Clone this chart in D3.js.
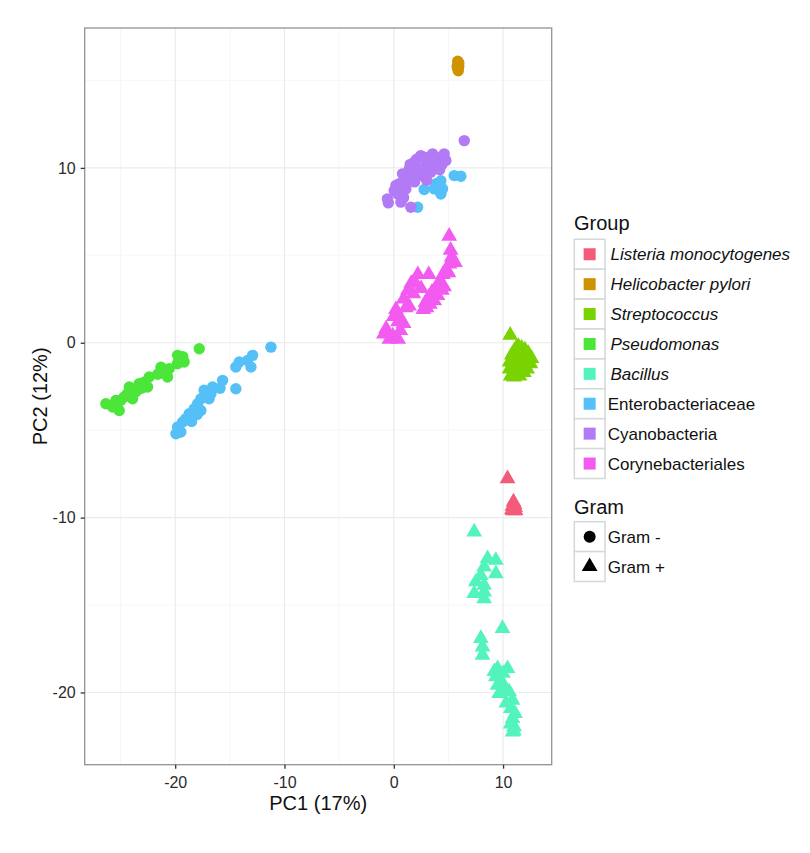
<!DOCTYPE html>
<html>
<head>
<meta charset="utf-8">
<script src="https://cdn.jsdelivr.net/npm/d3@7"></script>
<style>
  html, body { margin: 0; padding: 0; background: #fff; }
  svg { display: block; font-family: "Liberation Sans", Arial, Helvetica, sans-serif; }
</style>
</head>
<body>
<svg id="chart" width="810" height="853"></svg>
<script>
// ---------- DATA ----------
const groupNames = ["Listeria monocytogenes", "Helicobacter pylori", "Streptococcus", "Pseudomonas",
                    "Bacillus", "Enterobacteriaceae", "Cyanobacteria", "Corynebacteriales"];
const groupItalic = [true, true, true, true, true, false, false, false];
const groupColors = ["#F35B7B", "#CF9300", "#79D300", "#4CE53A", "#52F4BC", "#55C0F7", "#B27BF5", "#F25AF0"];
const groupGram = ["+", "-", "+", "-", "+", "-", "-", "+"];
const gramLabels = ["Gram -", "Gram +"];
const xTicks = [-20, -10, 0, 10];
const yTicks = [-20, -10, 0, 10];

const listeria = [[10.41,-7.77],[10.95,-9.1],[10.85,-9.35],[11.1,-9.4],[10.9,-9.6],[11.15,-9.6],[10.8,-9.55],[11.05,-9.25]];
const helicobacter = [[5.85,16.1],[5.9,15.9],[5.95,15.8],[5.85,15.7],[5.9,15.55],[5.95,16.0],[5.8,15.8]];
const streptococcus = [[10.65,0.43],[11.4,-0.2],[11.7,-0.3],[12.0,-0.4],[12.3,-0.6],[12.6,-0.9],[12.5,-1.2],
  [12.2,-1.5],[11.9,-1.7],[11.5,-1.9],[11.0,-1.95],[10.7,-1.9],[10.6,-1.5],[10.6,-1.1],[10.8,-0.7],[11.0,-0.5],
  [11.3,-1.0],[11.6,-1.3],[11.9,-0.9],[11.2,-0.3],[11.2,-1.6],[12.0,-1.1],[11.5,-0.6]];
const pseudomonas = [[-17.8,-0.34],[-19.78,-0.72],[-19.18,-1.1],[-19.8,-1.2],[-20.55,-1.49],[-21.15,-1.68],
  [-20.7,-1.96],[-22.38,-1.96],[-22.84,-2.25],[-23.3,-2.34],[-22.53,-2.53],[-24.2,-2.53],[-24.36,-2.91],
  [-24.67,-3.1],[-23.9,-3.2],[-25.43,-3.3],[-26.34,-3.49],[-25.73,-3.67],[-25.12,-3.87],[-25.0,-3.3],
  [-23.6,-2.8],[-23.1,-2.6],[-21.6,-1.8],[-21.3,-1.4],[-19.6,-0.95],[-19.3,-0.8]];
const bacillus = [[7.36,-10.82],[8.58,-12.34],[9.34,-12.44],[8.27,-12.82],[9.34,-13.2],[7.97,-13.3],[7.51,-13.67],
  [8.27,-13.87],[7.36,-14.34],[8.27,-14.25],[8.27,-14.63],[9.95,-16.34],[7.97,-16.91],[8.12,-17.39],[8.12,-17.87],
  [9.5,-18.63],[10.41,-18.63],[9.34,-19.1],[9.5,-19.58],[9.64,-20.06],[10.56,-19.96],[10.87,-20.44],[10.71,-20.91],
  [10.87,-21.49],[11.02,-21.96],[10.87,-22.25],[9.8,-19.3],[10.2,-19.8],[10.0,-18.9],[11.1,-21.2],[10.7,-21.8],
  [11.0,-22.2],[9.2,-18.8],[10.3,-20.6]];
const enterobacteriaceae = [[-11.24,-0.25],[-12.92,-0.72],[-13.38,-1.01],[-14.14,-1.1],[-13.07,-1.39],[-14.45,-1.39],
  [-14.45,-2.63],[-15.66,-2.15],[-16.58,-2.53],[-17.35,-2.72],[-16.73,-2.91],[-17.65,-3.2],[-17.95,-3.49],
  [-18.26,-3.77],[-17.65,-3.87],[-18.72,-4.06],[-19.02,-4.34],[-19.32,-4.53],[-19.78,-4.82],[-19.93,-5.2],
  [-19.48,-5.1],[-18.5,-4.5],[-18.0,-4.1],[-16.9,-3.2],[-15.9,-2.6],
  [2.78,8.76],[2.18,7.75],[3.85,9.09],[4.31,9.27],[4.46,8.8],[4.31,8.51],[5.53,9.56],[6.14,9.52],[3.7,8.8],[4.1,9.0]];
const cyanobacteria = [[-0.58,8.23],[0.65,8.04],[1.56,7.75],[0.04,8.7],[0.49,9.09],[0.8,9.66],[1.41,9.94],[1.87,10.33],
  [2.48,10.7],[2.94,10.13],[3.55,10.8],[4.61,10.8],[4.77,10.42],[4.0,10.13],[3.39,9.75],[2.32,9.56],[1.26,9.18],
  [1.11,8.8],[0.35,8.51],[2.02,10.04],[3.09,10.51],[2.6,9.9],[1.7,9.5],[3.9,10.6],[4.3,10.5],[1.0,9.3],[0.2,9.0],
  [-0.5,8.0],[0.9,8.3],[2.9,10.6],[1.5,10.2],[4.2,9.9],[3.0,9.3],[2.1,10.5],[3.6,10.3],[1.9,9.2],[0.7,8.9],
  [2.7,9.6],[4.4,10.2],[6.45,11.56]];
const corynebacteriales = [[2.7,1.9],[2.9,2.3],[3.2,2.6],[3.5,2.9],[3.9,3.2],[4.2,3.5],[4.5,3.9],[4.8,4.2],[5.1,4.5],
  [5.3,4.9],[5.2,5.3],[5.07,6.1],[5.6,4.6],[4.6,3.2],[4.0,2.7],[3.3,2.2],[3.0,2.0],[5.0,4.0],[4.4,3.0],[3.7,2.4],
  [-0.9,0.5],[-0.7,0.8],[-0.1,0.4],[0.6,0.7],[0.0,1.5],[0.6,1.4],[0.2,1.9],[0.9,2.5],[1.4,2.1],[1.3,3.0],[1.6,3.4],
  [2.2,3.9],[2.5,3.1],[3.2,3.9],[1.9,3.5],[-0.4,0.2],[0.4,0.2],[1.1,2.0],[0.9,1.1],[1.8,2.8],[0.4,1.2]];
const groupData = [listeria, helicobacter, streptococcus, pseudomonas, bacillus, enterobacteriaceae, cyanobacteria, corynebacteriales];

// ---------- LAYOUT ----------
const panel = { left: 84.7, right: 551.7, top: 28, bottom: 764.7 };
const svg = d3.select("#chart");
svg.append("rect").attr("width", 810).attr("height", 853).attr("fill", "#fff");

const x = d3.scaleLinear().domain([-28.28, 14.45]).range([panel.left, panel.right]);
const y = d3.scaleLinear().domain([-24.13, 18.0]).range([panel.bottom, panel.top]);

const g = svg.append("g");
// grid
const xMinor = [-25, -15, -5, 5];
const yMinor = [-15, -5, 5, 15];
g.selectAll(".xminor").data(xMinor).enter().append("line")
  .attr("x1", d => x(d)).attr("x2", d => x(d)).attr("y1", panel.top).attr("y2", panel.bottom)
  .attr("stroke", "#F3F5F6").attr("stroke-width", 0.8);
g.selectAll(".yminor").data(yMinor).enter().append("line")
  .attr("y1", d => y(d)).attr("y2", d => y(d)).attr("x1", panel.left).attr("x2", panel.right)
  .attr("stroke", "#F3F5F6").attr("stroke-width", 0.8);
g.selectAll(".xmajor").data(xTicks).enter().append("line")
  .attr("x1", d => x(d)).attr("x2", d => x(d)).attr("y1", panel.top).attr("y2", panel.bottom)
  .attr("stroke", "#E9ECEE").attr("stroke-width", 1.2);
g.selectAll(".ymajor").data(yTicks).enter().append("line")
  .attr("y1", d => y(d)).attr("y2", d => y(d)).attr("x1", panel.left).attr("x2", panel.right)
  .attr("stroke", "#E9ECEE").attr("stroke-width", 1.2);

// points
const triSize = 108;
groupData.forEach((pts, gi) => {
  const col = groupColors[gi];
  if (groupGram[gi] === "-") {
    g.append("g").selectAll("circle").data(pts).enter().append("circle")
      .attr("cx", d => x(d[0])).attr("cy", d => y(d[1])).attr("r", 5.7).attr("fill", col);
  } else {
    g.append("g").selectAll("path").data(pts).enter().append("path")
      .attr("d", d3.symbol(d3.symbolTriangle, triSize))
      .attr("transform", d => `translate(${x(d[0])},${y(d[1])})`).attr("fill", col);
  }
});

// panel border
svg.append("rect").attr("x", panel.left).attr("y", panel.top)
  .attr("width", panel.right - panel.left).attr("height", panel.bottom - panel.top)
  .attr("fill", "none").attr("stroke", "#8E9596").attr("stroke-width", 1.3);

// axes
const xAxis = d3.axisBottom(x).tickValues(xTicks).tickSize(4).tickPadding(8).tickFormat(d3.format("d"));
const yAxis = d3.axisLeft(y).tickValues(yTicks).tickSize(4).tickPadding(5).tickFormat(d3.format("d"));
const xa = svg.append("g").attr("transform", `translate(0,${panel.bottom})`).call(xAxis);
const ya = svg.append("g").attr("transform", `translate(${panel.left},0)`).call(yAxis);
[xa, ya].forEach(a => {
  a.select(".domain").remove();
  a.selectAll(".tick line").attr("stroke", "#333").attr("stroke-width", 1.3);
  a.selectAll(".tick text").attr("fill", "#2b2b2b").style("font-size", "16px")
    .style("font-family", "'Liberation Sans', Arial, sans-serif");
});
xa.selectAll(".tick text").text(d => d3.format("d")(d).replace("−", "-"));
ya.selectAll(".tick text").text(d => d3.format("d")(d).replace("−", "-"));

// axis titles
svg.append("text").attr("x", (panel.left + panel.right) / 2).attr("y", 810)
  .attr("text-anchor", "middle").style("font-size", "20px").attr("fill", "#111").text("PC1 (17%)");
svg.append("text").attr("transform", `translate(47,${(panel.top + panel.bottom) / 2}) rotate(-90)`)
  .attr("text-anchor", "middle").style("font-size", "20px").attr("fill", "#111").text("PC2 (12%)");

// ---------- LEGEND ----------
const lg = svg.append("g");
const keyX = 574.3, keyW = 30.7, rowH = 29.9;
lg.append("text").attr("x", 574).attr("y", 230).style("font-size", "20px").attr("fill", "#111").text("Group");
const groupTop = 239.3;
groupNames.forEach((name, i) => {
  const top = groupTop + i * rowH;
  lg.append("rect").attr("x", keyX).attr("y", top).attr("width", keyW).attr("height", rowH)
    .attr("fill", "#fff").attr("stroke", "#D5D8D8").attr("stroke-width", 1.5);
  lg.append("rect").attr("x", keyX + keyW / 2 - 6).attr("y", top + rowH / 2 - 6).attr("width", 12).attr("height", 12)
    .attr("fill", groupColors[i]);
  lg.append("text").attr("x", groupItalic[i] ? 610.5 : 607.7).attr("y", top + rowH / 2).attr("dy", "0.35em")
    .style("font-size", "17px").style("font-style", groupItalic[i] ? "italic" : "normal")
    .attr("fill", "#111").text(name);
});
lg.append("text").attr("x", 574).attr("y", 514).style("font-size", "20px").attr("fill", "#111").text("Gram");
const gramTop = 521.7;
gramLabels.forEach((name, i) => {
  const top = gramTop + i * rowH;
  const cx = keyX + keyW / 2, cy = top + rowH / 2;
  lg.append("rect").attr("x", keyX).attr("y", top).attr("width", keyW).attr("height", rowH)
    .attr("fill", "#fff").attr("stroke", "#D5D8D8").attr("stroke-width", 1.5);
  if (i === 0) {
    lg.append("circle").attr("cx", cx).attr("cy", cy).attr("r", 6).attr("fill", "#000");
  } else {
    lg.append("path").attr("d", d3.symbol(d3.symbolTriangle, triSize))
      .attr("transform", `translate(${cx},${cy})`).attr("fill", "#000");
  }
  lg.append("text").attr("x", 607.7).attr("y", cy).attr("dy", "0.35em")
    .style("font-size", "17px").attr("fill", "#111").text(name);
});
</script>
</body>
</html>
